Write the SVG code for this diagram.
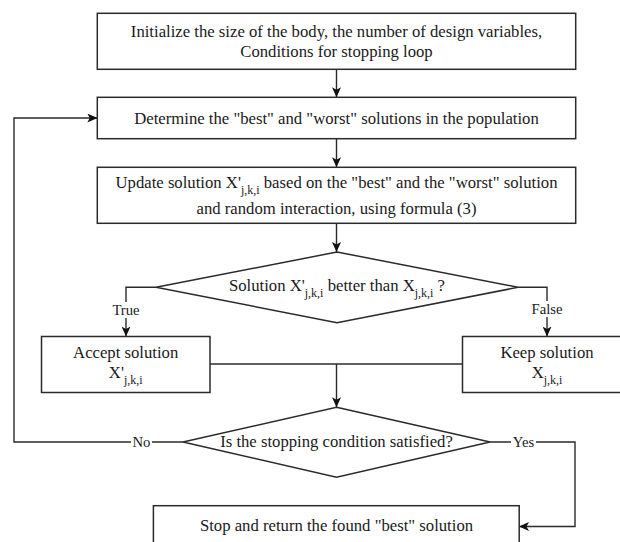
<svg xmlns="http://www.w3.org/2000/svg" width="620" height="542" viewBox="0 0 620 542">
<style>
.box{fill:#fff;stroke:#2b2b2b;stroke-width:1.5}
.ln{fill:none;stroke:#2b2b2b;stroke-width:1.4}
.t{font-family:"Liberation Serif","Times New Roman",serif;font-size:16.7px;fill:#1a1a1a;text-anchor:middle}
.lb{font-family:"Liberation Serif","Times New Roman",serif;font-size:14.7px;fill:#1a1a1a;text-anchor:middle}
.sub{font-size:12px}
.bg{fill:#fff}
</style>
<defs>
<marker id="ar" markerWidth="10" markerHeight="9" refX="10" refY="4.5" orient="auto" markerUnits="userSpaceOnUse">
<path d="M0,0 L10,4.5 L0,9 L2.5,4.5 z" fill="#111"/>
</marker>
</defs>
<rect width="620" height="542" fill="#fff"/>
<g id="connectors">
<line class="ln" x1="336.5" y1="69.3" x2="336.5" y2="97.3" marker-end="url(#ar)"/>
<line class="ln" x1="336.5" y1="138.7" x2="336.5" y2="167.3" marker-end="url(#ar)"/>
<line class="ln" x1="336.5" y1="223.3" x2="336.5" y2="252" marker-end="url(#ar)"/>
<polyline class="ln" points="156,287.3 126,287.3 126,336.5" marker-end="url(#ar)"/>
<polyline class="ln" points="518,287.3 547,287.3 547,336.5" marker-end="url(#ar)"/>
<line class="ln" x1="210" y1="364" x2="462.5" y2="364"/>
<line class="ln" x1="336.5" y1="364" x2="336.5" y2="407.3" marker-end="url(#ar)"/>
<polyline class="ln" points="183,442 14,442 14,118 97.3,118" marker-end="url(#ar)"/>
<polyline class="ln" points="490,442 575,442 575,526.5 519,526.5" marker-end="url(#ar)"/>
<rect class="bg" x="111" y="302" width="30" height="16"/>
<text class="lb" x="126" y="315">True</text>
<rect class="bg" x="529" y="301" width="36" height="16"/>
<text class="lb" x="547" y="314">False</text>
<rect class="bg" x="131" y="434" width="21" height="16"/>
<text class="lb" x="141.5" y="447">No</text>
<rect class="bg" x="511" y="434" width="25" height="16"/>
<text class="lb" x="523.5" y="447">Yes</text>
</g>
<g id="init">
<rect class="box" x="97.3" y="13.3" width="478.4" height="56"/>
<text class="t" x="336.5" y="37.3">Initialize the size of the body, the number of design variables,</text>
<text class="t" x="336.5" y="57.3">Conditions for stopping loop</text>
</g>
<g id="determine">
<rect class="box" x="97.3" y="97.3" width="478.4" height="41.4"/>
<text class="t" x="336.5" y="124">Determine the "best" and "worst" solutions in the population</text>
</g>
<g id="update">
<rect class="box" x="97.3" y="167.3" width="478.4" height="56"/>
<text class="t" x="336.5" y="188.3">Update solution X'<tspan class="sub" dy="6">j,k,i</tspan><tspan dy="-6"> based on the "best" and the "worst" solution</tspan></text>
<text class="t" x="336.5" y="213.5">and random interaction, using formula (3)</text>
</g>
<g id="better">
<polygon class="box" points="337,252 518,287.3 337,322.7 156,287.3"/>
<text class="t" x="337" y="291">Solution X'<tspan class="sub" dy="6">j,k,i</tspan><tspan dy="-6"> better than X</tspan><tspan class="sub" dy="6">j,k,i</tspan><tspan dy="-6"> ?</tspan></text>
</g>
<g id="accept">
<rect class="box" x="41.5" y="336.5" width="168.5" height="56"/>
<text class="t" x="125.7" y="358.3">Accept solution</text>
<text class="t" x="125.7" y="378.3">X'<tspan class="sub" dy="6">j,k,i</tspan></text>
</g>
<g id="keep">
<rect class="box" x="462.5" y="336.5" width="168.5" height="56"/>
<text class="t" x="547" y="358.3">Keep solution</text>
<text class="t" x="547" y="378.3">X<tspan class="sub" dy="6">j,k,i</tspan></text>
</g>
<g id="stopcond">
<polygon class="box" points="336.5,407.3 490,442 336.5,477.3 183,442"/>
<text class="t" x="336.5" y="446.7">Is the stopping condition satisfied?</text>
</g>
<g id="stop">
<rect class="box" x="153.4" y="505.7" width="365.8" height="42"/>
<text class="t" x="336.5" y="531">Stop and return the found "best" solution</text>
</g>
</svg>
